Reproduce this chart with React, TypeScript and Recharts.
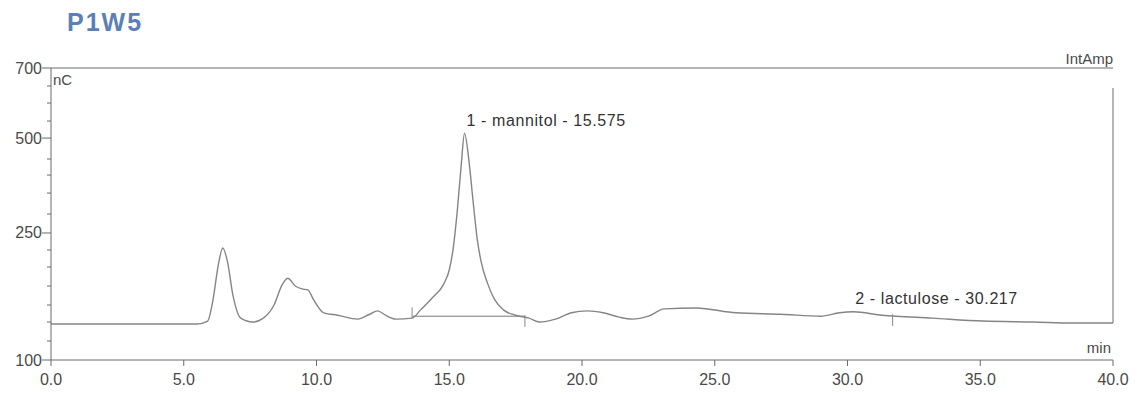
import React from "react";
import { LineChart, Line, XAxis, YAxis, ReferenceLine, ReferenceDot } from "recharts";

// retention time (min) and detector signal
const retentionTimes = [
  0, 5.5, 5.9, 6.1, 6.3, 6.47, 6.65, 6.85, 7.15, 7.6, 8.0, 8.4, 8.7, 8.92, 9.2, 9.45,
  9.67, 9.9, 10.27, 10.8, 11.55, 12.0, 12.3, 12.6, 13.0, 13.6, 13.92, 14.4, 14.79, 15.0,
  15.15, 15.3, 15.45, 15.575, 15.75, 15.9, 16.05, 16.2, 16.44, 16.7, 17.04, 17.5, 18.0, 18.4,
  19.0, 19.6, 20.2, 20.8, 21.4, 21.9, 22.5, 23.1, 24.3, 25.8, 27.5, 29.0, 29.7, 30.217,
  31.3, 33.2, 35.1, 37.0, 38.5, 40,
];
const signal = [
  174, 174, 180, 223, 295, 330, 301, 234, 186, 178, 186, 213, 254, 268, 252, 246,
  244, 223, 197, 192, 184, 194, 201, 192, 184, 186, 203, 230, 256, 285,
  330, 405, 500, 566, 505, 425, 350, 302, 258, 225, 203, 192, 186, 178,
  184, 197, 201, 197, 188, 184, 190, 205, 207, 197, 194, 190, 197, 199,
  192, 186, 180, 178, 176, 176,
];

const xTicks = [0, 5, 10, 15, 20, 25, 30, 35, 40];
const xTickLabels = ["0.0", "5.0", "10.0", "15.0", "20.0", "25.0", "30.0", "35.0", "40.0"];
const yMajorTicks = [100, 361, 556, 700];
const yMajorLabels = ["100", "250", "500", "700"];
const yMinorTicks = [663, 628, 591, 513, 480, 443, 400, 326, 291, 252, 213, 178, 139];

const peakNames = ["1 - mannitol - 15.575", "2 - lactulose - 30.217"];
const peakTimes = [15.575, 30.217];
const peakHeights = [566, 199];

// integration baseline and start/end markers
const mannitolBaseline = [{ x: 13.6, y: 190 }, { x: 17.85, y: 190 }];
const markerTimes = [13.6, 17.85, 31.7];
const markerLow = [186, 168, 170];
const markerHigh = [208, 192, 194];

const data = retentionTimes.map((t, i) => ({ t, v: signal[i] }));

const FONT = "'Liberation Sans', Arial, sans-serif";
const TEXT = "#4a4a4a";
const AXIS = "#6a6a6a";

const YTick = (props: any) => {
  const { x, y, payload } = props;
  const idx = yMajorTicks.indexOf(payload.value);
  const major = idx >= 0;
  return (
    <g>
      <line x1={x - (major ? 9 : 4)} x2={x} y1={y} y2={y} stroke={AXIS} strokeWidth={1} />
      {major && (
        <text x={x - 9} y={y} textAnchor="end" dominantBaseline="central" fill={TEXT} fontSize={16} fontFamily={FONT}>
          {yMajorLabels[idx]}
        </text>
      )}
    </g>
  );
};

const XTick = (props: any) => {
  const { x, y, payload } = props;
  const idx = xTicks.indexOf(payload.value);
  return (
    <g>
      <line x1={x} x2={x} y1={y} y2={y + 6} stroke={AXIS} strokeWidth={1} />
      <text x={x} y={y + 19} textAnchor="middle" dominantBaseline="central" fill={TEXT} fontSize={16} fontFamily={FONT}>
        {xTickLabels[idx]}
      </text>
    </g>
  );
};

const PeakLabel = (name: string) => (props: any) => (
  <text
    x={props.cx + 2}
    y={props.cy - 13}
    dominantBaseline="central"
    fill="#333"
    fontSize={16}
    letterSpacing={0.6}
    fontFamily={FONT}
  >
    {name}
  </text>
);

export default function App() {
  return (
    <div style={{ position: "absolute", left: 0, top: 0, width: 1138, height: 395, background: "#fff", fontFamily: FONT }}>
      <div style={{ position: "absolute", left: 67, top: 10, fontSize: 25, lineHeight: 1, fontWeight: 700, color: "#5b80b8", letterSpacing: 2 }}>
        P1W5
      </div>
      <div style={{ position: "absolute", left: 53, top: 72, fontSize: 15, lineHeight: 1, color: TEXT }}>nC</div>
      <div style={{ position: "absolute", right: 25, top: 51, fontSize: 15, lineHeight: 1, color: TEXT }}>IntAmp</div>
      <div style={{ position: "absolute", right: 27, top: 340, fontSize: 15, lineHeight: 1, color: TEXT }}>min</div>
      <LineChart width={1138} height={395} data={data} margin={{ top: 68, right: 25, left: 0, bottom: 0 }}>
        <XAxis
          type="number"
          dataKey="t"
          domain={[0, 40]}
          ticks={xTicks}
          interval={0}
          height={35}
          tickSize={0}
          tickMargin={0}
          tickLine={false}
          axisLine={{ stroke: AXIS }}
          tick={<XTick />}
        />
        <YAxis
          type="number"
          domain={[100, 700]}
          ticks={[...yMajorTicks, ...yMinorTicks].sort((a, b) => a - b)}
          interval={0}
          width={51}
          tickSize={0}
          tickMargin={0}
          tickLine={false}
          axisLine={{ stroke: AXIS }}
          tick={<YTick />}
          allowDataOverflow
        />
        <ReferenceLine y={700} stroke={AXIS} strokeWidth={1} />
        <ReferenceLine segment={[{ x: 40, y: 176 }, { x: 40, y: 659 }]} stroke={AXIS} strokeWidth={1} />
        <ReferenceLine segment={mannitolBaseline} stroke="#777" strokeWidth={1} />
        {markerTimes.map((t, i) => (
          <ReferenceLine
            key={t}
            segment={[{ x: t, y: markerLow[i] }, { x: t, y: markerHigh[i] }]}
            stroke="#888"
            strokeWidth={1}
          />
        ))}
        <Line
          type="monotone"
          dataKey="v"
          stroke="#858585"
          strokeWidth={1.4}
          dot={false}
          isAnimationActive={false}
        />
        {peakNames.map((name, i) => (
          <ReferenceDot key={name} x={peakTimes[i]} y={peakHeights[i]} r={0} shape={PeakLabel(name)} />
        ))}
      </LineChart>
    </div>
  );
}
